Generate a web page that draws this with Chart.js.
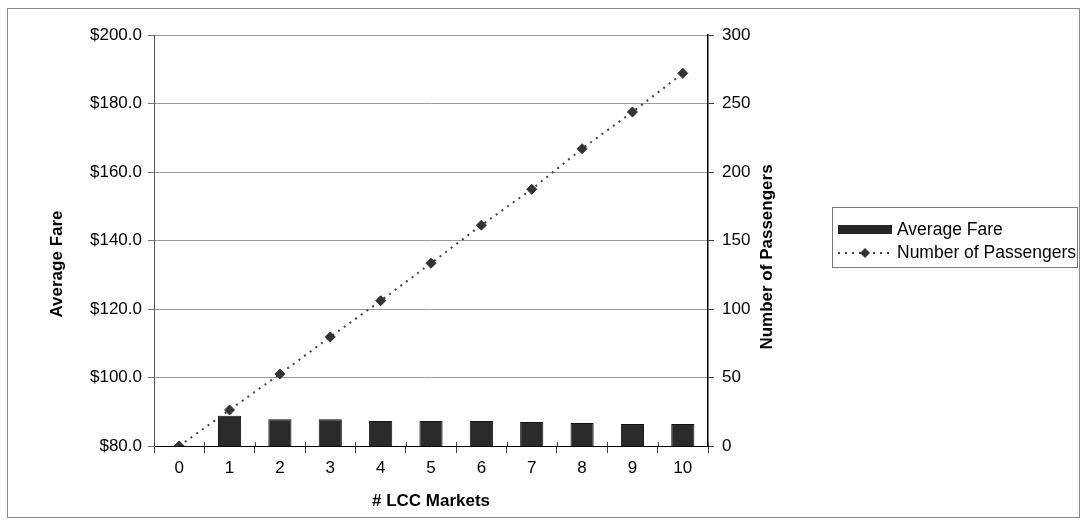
<!DOCTYPE html>
<html>
<head>
<meta charset="utf-8">
<script src="https://cdn.jsdelivr.net/npm/chart.js@4/dist/chart.umd.min.js"></script>
<style>
html,body{margin:0;padding:0;background:#fff;}
#wrap{width:1086px;height:529px;position:relative;}
</style>
</head>
<body>
<div id="wrap"><canvas id="c" width="1086" height="529"></canvas></div>
<script>
const categories = ['0','1','2','3','4','5','6','7','8','9','10'];
const averageFare = [null, 88.8, 87.8, 87.8, 87.3, 87.3, 87.3, 87.0, 86.7, 86.4, 86.4];
const numberOfPassengers = [0, 26.3, 52.6, 79.6, 106, 133.4, 161.2, 187.4, 217, 243.8, 272];
const fareTicks = [80, 200, 20];
const passengerTicks = [0, 300, 50];
const seriesNames = ['Average Fare', 'Number of Passengers'];
const axisTitles = ['Average Fare', 'Number of Passengers', '# LCC Markets'];

const FONT = '"Liberation Sans", Arial, sans-serif';

const decor = {
  id: 'decor',
  beforeDraw(chart) {
    const ctx = chart.ctx;
    ctx.save();
    ctx.fillStyle = '#fff';
    ctx.fillRect(0, 0, chart.width, chart.height);
    ctx.restore();
  },
  afterDraw(chart) {
    const ctx = chart.ctx;
    ctx.save();
    // outer border
    ctx.strokeStyle = '#8a8a8a';
    ctx.lineWidth = 1;
    ctx.strokeRect(7.5, 8.5, 1072, 509);
    // x tick marks also reach a little above the axis line
    const xs = chart.scales.x;
    const half = (xs.getPixelForValue(1) - xs.getPixelForValue(0)) / 2;
    ctx.strokeStyle = '#444';
    ctx.beginPath();
    for (let i = 0; i <= categories.length; i++) {
      const px = Math.round(xs.getPixelForValue(i) - half) + 0.5;
      ctx.moveTo(px, xs.top - 4);
      ctx.lineTo(px, xs.top);
    }
    ctx.stroke();
    // axis titles (rotated, reading upward)
    ctx.fillStyle = '#000';
    ctx.font = 'bold 17px ' + FONT;
    ctx.textAlign = 'center';
    ctx.textBaseline = 'middle';
    ctx.save();
    ctx.translate(57, 264);
    ctx.rotate(-Math.PI / 2);
    ctx.fillText(axisTitles[0], 0, 0);
    ctx.restore();
    ctx.save();
    ctx.translate(767, 257);
    ctx.rotate(-Math.PI / 2);
    ctx.fillText(axisTitles[1], 0, 0);
    ctx.restore();
    // legend
    ctx.strokeStyle = '#777';
    ctx.lineWidth = 1;
    ctx.strokeRect(832.5, 207.5, 245, 60);
    ctx.fillStyle = '#262626';
    ctx.fillRect(838, 225, 54, 9);
    ctx.strokeStyle = '#444';
    ctx.lineWidth = 2;
    ctx.setLineDash([2, 5]);
    ctx.beginPath();
    ctx.moveTo(838, 253);
    ctx.lineTo(892, 253);
    ctx.stroke();
    ctx.setLineDash([]);
    ctx.fillStyle = '#333';
    ctx.beginPath();
    ctx.moveTo(865, 248); ctx.lineTo(870, 253); ctx.lineTo(865, 258); ctx.lineTo(860, 253);
    ctx.closePath();
    ctx.fill();
    ctx.fillStyle = '#000';
    ctx.font = '17.5px ' + FONT;
    ctx.textAlign = 'left';
    ctx.textBaseline = 'middle';
    ctx.fillText(seriesNames[0], 897, 230);
    ctx.fillText(seriesNames[1], 897, 253);
    ctx.restore();
  }
};

new Chart(document.getElementById('c'), {
  data: {
    labels: categories,
    datasets: [
      {
        type: 'line',
        label: seriesNames[1],
        data: numberOfPassengers,
        yAxisID: 'y1',
        borderColor: '#444',
        borderWidth: 2,
        borderDash: [2, 5],
        fill: false,
        tension: 0,
        pointStyle: 'rectRot',
        pointRadius: 5,
        pointBackgroundColor: '#333',
        pointBorderColor: '#333',
        pointBorderWidth: 1,
        order: 0
      },
      {
        type: 'bar',
        label: seriesNames[0],
        data: averageFare,
        yAxisID: 'y',
        backgroundColor: '#2a2a2a',
        borderColor: '#111',
        borderWidth: 1,
        categoryPercentage: 1,
        barPercentage: 0.46,
        order: 1
      }
    ]
  },
  options: {
    responsive: false,
    animation: false,
    devicePixelRatio: 1,
    layout: { padding: { left: 0, right: 0, top: 35, bottom: 0 } },
    plugins: { legend: { display: false }, tooltip: { enabled: false } },
    scales: {
      x: {
        type: 'category',
        offset: true,
        grid: { offset: true, drawOnChartArea: false, color: '#000', tickLength: 7, tickColor: '#444' },
        border: { color: '#000', width: 1 },
        ticks: { color: '#000', font: { family: FONT, size: 17 }, padding: 5, maxRotation: 0 },
        title: { display: true, text: axisTitles[2], color: '#000', font: { family: FONT, size: 17, weight: 'bold' }, padding: { top: 0, bottom: 17.6 } },
        afterFit(s) { s.height = 83; }
      },
      y: {
        position: 'left',
        min: fareTicks[0], max: fareTicks[1],
        ticks: { stepSize: fareTicks[2], color: '#000', font: { family: FONT, size: 17 }, padding: 6, callback: v => '$' + Number(v).toFixed(1) },
        grid: { color: '#9a9a9a', lineWidth: 1, tickLength: 6, tickColor: '#777' },
        border: { color: '#555', width: 1 },
        afterFit(s) { s.width = 154; }
      },
      y1: {
        position: 'right',
        min: passengerTicks[0], max: passengerTicks[1],
        ticks: { stepSize: passengerTicks[2], color: '#000', font: { family: FONT, size: 17 }, padding: 8 },
        grid: { drawOnChartArea: false, tickLength: 6, tickColor: '#444' },
        border: { color: '#000', width: 1.5 },
        afterFit(s) { s.width = 378; }
      }
    }
  },
  plugins: [decor]
});
</script>
</body>
</html>
